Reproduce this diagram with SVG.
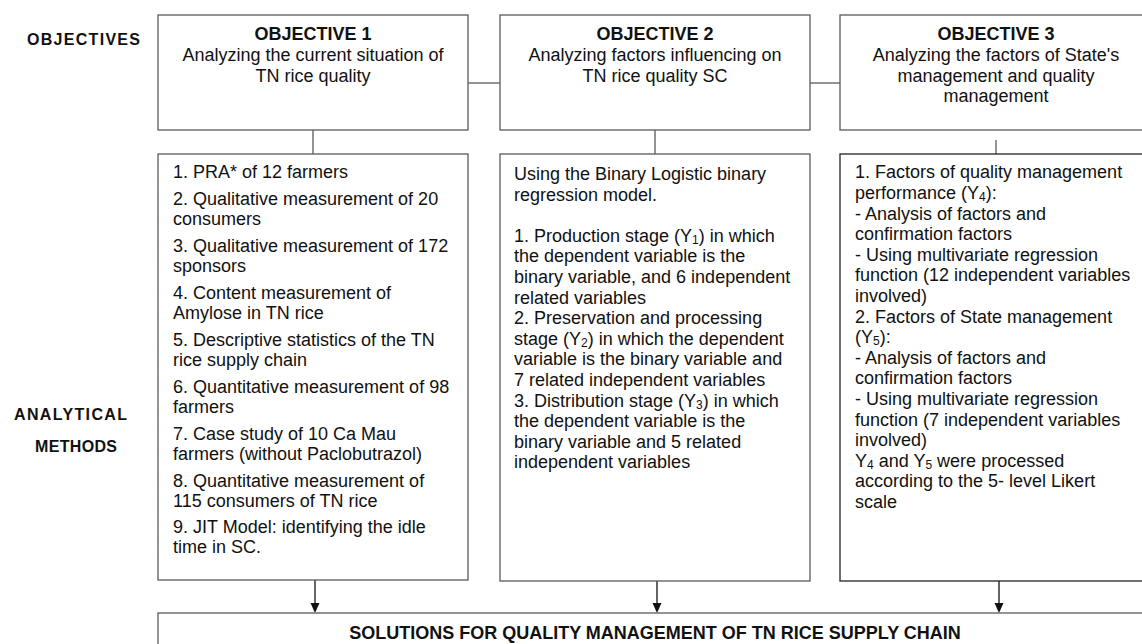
<svg xmlns="http://www.w3.org/2000/svg" width="1142" height="644" viewBox="0 0 1142 644">
<style>
text{font-family:"Liberation Sans",Arial,sans-serif;fill:#111;font-size:18px}
.b{font-weight:bold}
.c{text-anchor:middle}
.lbl{font-weight:bold;font-size:16px}
.box{fill:#fff;stroke:#5a5a5a;stroke-width:1.3}
.ln{stroke:#5a5a5a;stroke-width:1.3;fill:none}
.ar{stroke:#111;stroke-width:1.3;fill:none}
.s{font-size:12px}
</style>
<defs>
<marker id="ah" markerWidth="10" markerHeight="10" refX="5" refY="9" orient="auto" markerUnits="userSpaceOnUse" viewBox="0 0 10 10">
<path d="M0.5,1 L9.5,1 L5,9.5 Z" fill="#111" transform="rotate(-90 5 5)"/>
</marker>
</defs>
<rect width="1142" height="644" fill="#fff"/>

<g id="labels">
<text class="lbl" x="27" y="45" textLength="113" lengthAdjust="spacing">OBJECTIVES</text>
<text class="lbl" x="14" y="420" textLength="113" lengthAdjust="spacing">ANALYTICAL</text>
<text class="lbl" x="35" y="452" textLength="82" lengthAdjust="spacing">METHODS</text>
</g>

<g id="connectors">
<line class="ln" x1="468" y1="83" x2="500" y2="83"/>
<line class="ln" x1="810" y1="83" x2="840" y2="83"/>
<line class="ln" x1="313" y1="130" x2="313" y2="154"/>
<line class="ln" x1="655" y1="130" x2="655" y2="154"/>
<line class="ln" x1="996" y1="140" x2="996" y2="154"/>
<line class="ar" x1="315" y1="580" x2="315" y2="604"/>
<path d="M310.5,603 L319.5,603 L315,613 Z" fill="#111"/>
<line class="ar" x1="657" y1="581" x2="657" y2="604"/>
<path d="M652.5,603 L661.5,603 L657,613 Z" fill="#111"/>
<line class="ar" x1="999" y1="581" x2="999" y2="604"/>
<path d="M994.5,603 L1003.5,603 L999,613 Z" fill="#111"/>
</g>

<g id="obj1">
<rect class="box" x="158" y="15" width="310" height="115"/>
<text class="b c" x="313" y="40">OBJECTIVE 1</text>
<text class="c" x="313" y="61">Analyzing the current situation of</text>
<text class="c" x="313" y="81.5">TN rice quality</text>
</g>

<g id="obj2">
<rect class="box" x="500" y="15" width="310" height="115"/>
<text class="b c" x="655" y="40">OBJECTIVE 2</text>
<text class="c" x="655" y="61">Analyzing factors influencing on</text>
<text class="c" x="655" y="81.5">TN rice quality SC</text>
</g>

<g id="obj3">
<rect class="box" x="840" y="15" width="312" height="115"/>
<text class="b c" x="996" y="40">OBJECTIVE 3</text>
<text class="c" x="996" y="61">Analyzing the factors of State's</text>
<text class="c" x="996" y="81.5">management and quality</text>
<text class="c" x="996" y="102">management</text>
</g>

<g id="method1">
<rect class="box" x="158" y="154" width="310" height="426"/>
<text x="173" y="178">1. PRA* of 12 farmers</text>
<text x="173" y="205">2. Qualitative measurement of 20</text>
<text x="173" y="225">consumers</text>
<text x="173" y="252">3. Qualitative measurement of 172</text>
<text x="173" y="272">sponsors</text>
<text x="173" y="299">4. Content measurement of</text>
<text x="173" y="319">Amylose in TN rice</text>
<text x="173" y="346">5. Descriptive statistics of the TN</text>
<text x="173" y="366">rice supply chain</text>
<text x="173" y="393">6. Quantitative measurement of 98</text>
<text x="173" y="413">farmers</text>
<text x="173" y="440">7. Case study of 10 Ca Mau</text>
<text x="173" y="460">farmers (without Paclobutrazol)</text>
<text x="173" y="487">8. Quantitative measurement of</text>
<text x="173" y="507">115 consumers of TN rice</text>
<text x="173" y="533">9. JIT Model: identifying the idle</text>
<text x="173" y="553">time in SC.</text>
</g>

<g id="method2">
<rect class="box" x="500" y="154" width="310" height="427"/>
<text x="514" y="180">Using the Binary Logistic binary</text>
<text x="514" y="200.6">regression model.</text>
<text x="514" y="241.8">1. Production stage (Y<tspan class="s" dy="2">1</tspan><tspan dy="-2">) in which</tspan></text>
<text x="514" y="262.4">the dependent variable is the</text>
<text x="514" y="283">binary variable, and 6 independent</text>
<text x="514" y="303.6">related variables</text>
<text x="514" y="324.2">2. Preservation and processing</text>
<text x="514" y="344.8">stage (Y<tspan class="s" dy="2">2</tspan><tspan dy="-2">) in which the dependent</tspan></text>
<text x="514" y="365.4">variable is the binary variable and</text>
<text x="514" y="386">7 related independent variables</text>
<text x="514" y="406.6">3. Distribution stage (Y<tspan class="s" dy="2">3</tspan><tspan dy="-2">) in which</tspan></text>
<text x="514" y="427.2">the dependent variable is the</text>
<text x="514" y="447.8">binary variable and 5 related</text>
<text x="514" y="468.4">independent variables</text>
</g>

<g id="method3">
<rect class="box" x="840" y="154" width="312" height="427" style="stroke:#222"/>
<text x="855" y="178.3">1. Factors of quality management</text>
<text x="855" y="198.9">performance (Y<tspan class="s" dy="2">4</tspan><tspan dy="-2">):</tspan></text>
<text x="855" y="219.5">- Analysis of factors and</text>
<text x="855" y="240.1">confirmation factors</text>
<text x="855" y="260.7">- Using multivariate regression</text>
<text x="855" y="281.3">function (12 independent variables</text>
<text x="855" y="301.9">involved)</text>
<text x="855" y="322.5">2. Factors of State management</text>
<text x="855" y="343.1">(Y<tspan class="s" dy="2">5</tspan><tspan dy="-2">):</tspan></text>
<text x="855" y="363.7">- Analysis of factors and</text>
<text x="855" y="384.3">confirmation factors</text>
<text x="855" y="404.9">- Using multivariate regression</text>
<text x="855" y="425.5">function (7 independent variables</text>
<text x="855" y="446.1">involved)</text>
<text x="855" y="466.7">Y<tspan class="s" dy="2">4</tspan><tspan dy="-2"> and Y</tspan><tspan class="s" dy="2">5</tspan><tspan dy="-2"> were processed</tspan></text>
<text x="855" y="487.3">according to the 5- level Likert</text>
<text x="855" y="507.9">scale</text>
</g>

<g id="solutions">
<rect class="box" x="158" y="613" width="994" height="50"/>
<text class="b c" x="655" y="638.5">SOLUTIONS FOR QUALITY MANAGEMENT OF TN RICE SUPPLY CHAIN</text>
</g>
</svg>
